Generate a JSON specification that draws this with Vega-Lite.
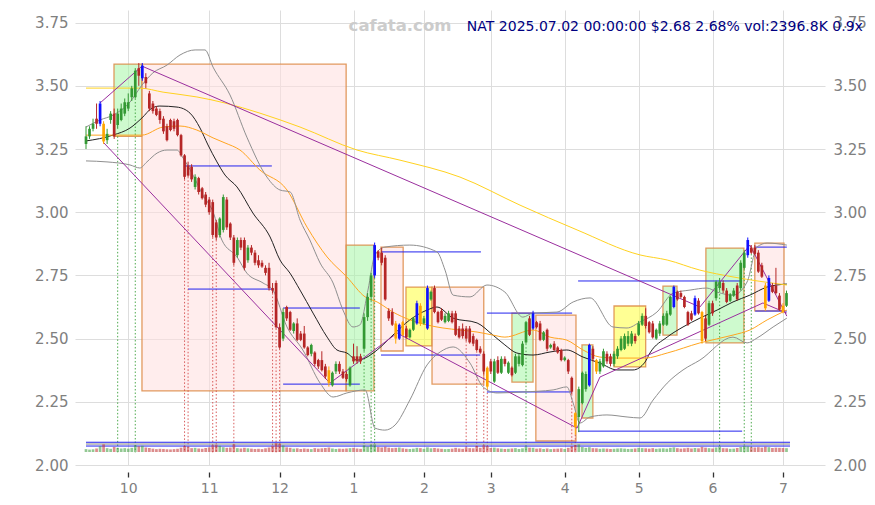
{
"$schema":"https://vega.github.io/schema/vega-lite/v6.json",
"width":750,"height":455,"autosize":"none",
"padding":{"left":75,"top":10,"right":50,"bottom":40},
"background":"white",
"config":{"font":"DejaVu Sans","view":{"stroke":null},"scale":{"continuousPadding":0},"axis":{"gridColor":"#dddddd","gridWidth":1,"domain":false,"ticks":false,"labelColor":"#808080","labelFontSize":13,"labelOverlap":false,"labelFlush":false}},
"datasets":{
"k":[
{"i":0,"o":3.27,"h":3.34,"l":3.25,"c":3.30,"k":"u","v":1800},
{"i":1,"o":3.30,"h":3.34,"l":3.29,"c":3.33,"k":"u","v":1500},
{"i":2,"o":3.33,"h":3.37,"l":3.32,"c":3.35,"k":"u","v":1700},
{"i":3,"o":3.37,"h":3.43,"l":3.33,"c":3.35,"k":"d","v":2200},
{"i":4,"o":3.35,"h":3.44,"l":3.34,"c":3.43,"k":"b","v":3600},
{"i":5,"o":3.35,"h":3.36,"l":3.27,"c":3.28,"k":"o","v":4800},
{"i":6,"o":3.285,"h":3.33,"l":3.27,"c":3.31,"k":"u","v":2400},
{"i":7,"o":3.365,"h":3.40,"l":3.35,"c":3.39,"k":"u","v":2000},
{"i":8,"o":3.39,"h":3.41,"l":3.29,"c":3.30,"k":"d","v":3200},
{"i":9,"o":3.345,"h":3.41,"l":3.33,"c":3.39,"k":"u","v":2600},
{"i":10,"o":3.365,"h":3.43,"l":3.36,"c":3.41,"k":"u","v":2200},
{"i":11,"o":3.39,"h":3.45,"l":3.38,"c":3.435,"k":"u","v":2400},
{"i":12,"o":3.41,"h":3.47,"l":3.40,"c":3.435,"k":"u","v":2100},
{"i":13,"o":3.455,"h":3.50,"l":3.44,"c":3.49,"k":"u","v":2600},
{"i":14,"o":3.455,"h":3.57,"l":3.45,"c":3.56,"k":"u","v":4200},
{"i":15,"o":3.57,"h":3.59,"l":3.50,"c":3.54,"k":"d","v":3500},
{"i":16,"o":3.53,"h":3.59,"l":3.52,"c":3.58,"k":"b","v":3900},
{"i":17,"o":3.535,"h":3.55,"l":3.49,"c":3.51,"k":"d","v":2800},
{"i":18,"o":3.47,"h":3.48,"l":3.40,"c":3.41,"k":"d","v":2500},
{"i":19,"o":3.43,"h":3.44,"l":3.39,"c":3.40,"k":"d","v":2100},
{"i":20,"o":3.41,"h":3.42,"l":3.38,"c":3.385,"k":"d","v":1800},
{"i":21,"o":3.40,"h":3.41,"l":3.35,"c":3.365,"k":"d","v":2000},
{"i":22,"o":3.37,"h":3.38,"l":3.31,"c":3.32,"k":"d","v":1900},
{"i":23,"o":3.34,"h":3.35,"l":3.28,"c":3.285,"k":"d","v":1700},
{"i":24,"o":3.365,"h":3.37,"l":3.32,"c":3.325,"k":"d","v":1600},
{"i":25,"o":3.36,"h":3.37,"l":3.32,"c":3.33,"k":"d","v":1800},
{"i":26,"o":3.365,"h":3.37,"l":3.30,"c":3.305,"k":"d","v":2000},
{"i":27,"o":3.305,"h":3.31,"l":3.22,"c":3.225,"k":"d","v":2700},
{"i":28,"o":3.225,"h":3.23,"l":3.13,"c":3.14,"k":"d","v":3800},
{"i":29,"o":3.185,"h":3.20,"l":3.14,"c":3.145,"k":"d","v":3300},
{"i":30,"o":3.18,"h":3.19,"l":3.12,"c":3.13,"k":"d","v":2400},
{"i":31,"o":3.10,"h":3.15,"l":3.09,"c":3.14,"k":"u","v":2600},
{"i":32,"o":3.135,"h":3.14,"l":3.07,"c":3.08,"k":"d","v":2200},
{"i":33,"o":3.095,"h":3.10,"l":3.05,"c":3.055,"k":"d","v":2100},
{"i":34,"o":3.07,"h":3.08,"l":3.02,"c":3.03,"k":"d","v":2500},
{"i":35,"o":3.05,"h":3.06,"l":2.99,"c":3.00,"k":"d","v":2900},
{"i":36,"o":3.04,"h":3.05,"l":2.90,"c":2.91,"k":"d","v":4200},
{"i":37,"o":2.96,"h":2.97,"l":2.89,"c":2.90,"k":"d","v":4500},
{"i":38,"o":2.91,"h":2.98,"l":2.90,"c":2.975,"k":"u","v":3900},
{"i":39,"o":2.93,"h":3.07,"l":2.92,"c":3.06,"k":"u","v":3000},
{"i":40,"o":3.05,"h":3.06,"l":2.93,"c":2.94,"k":"d","v":2600},
{"i":41,"o":2.955,"h":2.96,"l":2.89,"c":2.90,"k":"d","v":2800},
{"i":42,"o":2.90,"h":2.91,"l":2.79,"c":2.80,"k":"d","v":4800},
{"i":43,"o":2.83,"h":2.90,"l":2.82,"c":2.89,"k":"u","v":2400},
{"i":44,"o":2.89,"h":2.90,"l":2.85,"c":2.86,"k":"d","v":2200},
{"i":45,"o":2.89,"h":2.90,"l":2.77,"c":2.78,"k":"d","v":2600},
{"i":46,"o":2.81,"h":2.87,"l":2.80,"c":2.86,"k":"u","v":2300},
{"i":47,"o":2.86,"h":2.87,"l":2.83,"c":2.84,"k":"d","v":2100},
{"i":48,"o":2.84,"h":2.85,"l":2.79,"c":2.80,"k":"d","v":1900},
{"i":49,"o":2.81,"h":2.83,"l":2.78,"c":2.79,"k":"d","v":2000},
{"i":50,"o":2.80,"h":2.81,"l":2.78,"c":2.785,"k":"d","v":1800},
{"i":51,"o":2.78,"h":2.79,"l":2.75,"c":2.76,"k":"d","v":2300},
{"i":52,"o":2.78,"h":2.80,"l":2.69,"c":2.70,"k":"d","v":2800},
{"i":53,"o":2.70,"h":2.72,"l":2.68,"c":2.69,"k":"d","v":3900},
{"i":54,"o":2.72,"h":2.73,"l":2.54,"c":2.545,"k":"d","v":5600},
{"i":55,"o":2.545,"h":2.56,"l":2.46,"c":2.465,"k":"d","v":5200},
{"i":56,"o":2.50,"h":2.62,"l":2.49,"c":2.605,"k":"u","v":4100},
{"i":57,"o":2.625,"h":2.63,"l":2.57,"c":2.58,"k":"d","v":2900},
{"i":58,"o":2.605,"h":2.61,"l":2.53,"c":2.535,"k":"d","v":2600},
{"i":59,"o":2.53,"h":2.565,"l":2.52,"c":2.56,"k":"u","v":2100},
{"i":60,"o":2.56,"h":2.58,"l":2.49,"c":2.495,"k":"d","v":2300},
{"i":61,"o":2.52,"h":2.53,"l":2.49,"c":2.495,"k":"d","v":1900},
{"i":62,"o":2.52,"h":2.55,"l":2.46,"c":2.465,"k":"d","v":2200},
{"i":63,"o":2.465,"h":2.47,"l":2.43,"c":2.435,"k":"d","v":2000},
{"i":64,"o":2.44,"h":2.48,"l":2.43,"c":2.475,"k":"u","v":1800},
{"i":65,"o":2.445,"h":2.45,"l":2.39,"c":2.40,"k":"d","v":2400},
{"i":66,"o":2.415,"h":2.42,"l":2.38,"c":2.39,"k":"d","v":2100},
{"i":67,"o":2.415,"h":2.45,"l":2.37,"c":2.375,"k":"d","v":2300},
{"i":68,"o":2.39,"h":2.40,"l":2.34,"c":2.35,"k":"d","v":2500},
{"i":69,"o":2.375,"h":2.39,"l":2.31,"c":2.325,"k":"o","v":2800},
{"i":70,"o":2.315,"h":2.37,"l":2.31,"c":2.365,"k":"u","v":2200},
{"i":71,"o":2.37,"h":2.41,"l":2.36,"c":2.40,"k":"u","v":1900},
{"i":72,"o":2.40,"h":2.41,"l":2.36,"c":2.37,"k":"d","v":2100},
{"i":73,"o":2.37,"h":2.38,"l":2.34,"c":2.345,"k":"d","v":2000},
{"i":74,"o":2.36,"h":2.37,"l":2.33,"c":2.34,"k":"d","v":2200},
{"i":75,"o":2.315,"h":2.39,"l":2.31,"c":2.385,"k":"u","v":2400},
{"i":76,"o":2.43,"h":2.48,"l":2.40,"c":2.41,"k":"d","v":2600},
{"i":77,"o":2.43,"h":2.47,"l":2.40,"c":2.41,"k":"d","v":2200},
{"i":78,"o":2.43,"h":2.44,"l":2.40,"c":2.41,"k":"d","v":2000},
{"i":79,"o":2.46,"h":2.60,"l":2.45,"c":2.585,"k":"u","v":4200},
{"i":80,"o":2.585,"h":2.68,"l":2.57,"c":2.665,"k":"u","v":3400},
{"i":81,"o":2.665,"h":2.76,"l":2.65,"c":2.75,"k":"u","v":4500},
{"i":82,"o":2.75,"h":2.88,"l":2.74,"c":2.87,"k":"b","v":4800},
{"i":83,"o":2.845,"h":2.85,"l":2.81,"c":2.82,"k":"d","v":3100},
{"i":84,"o":2.84,"h":2.86,"l":2.79,"c":2.80,"k":"d","v":2800},
{"i":85,"o":2.82,"h":2.83,"l":2.65,"c":2.655,"k":"d","v":3300},
{"i":86,"o":2.61,"h":2.62,"l":2.57,"c":2.58,"k":"d","v":2700},
{"i":87,"o":2.605,"h":2.62,"l":2.55,"c":2.555,"k":"d","v":2400},
{"i":88,"o":2.56,"h":2.57,"l":2.48,"c":2.50,"k":"o","v":2600},
{"i":89,"o":2.50,"h":2.56,"l":2.495,"c":2.555,"k":"b","v":2800},
{"i":90,"o":2.565,"h":2.57,"l":2.51,"c":2.515,"k":"o","v":2300},
{"i":91,"o":2.54,"h":2.55,"l":2.50,"c":2.505,"k":"d","v":2000},
{"i":92,"o":2.505,"h":2.54,"l":2.50,"c":2.535,"k":"u","v":1900},
{"i":93,"o":2.535,"h":2.585,"l":2.53,"c":2.58,"k":"u","v":2100},
{"i":94,"o":2.56,"h":2.65,"l":2.555,"c":2.64,"k":"b","v":2600},
{"i":95,"o":2.63,"h":2.64,"l":2.55,"c":2.56,"k":"o","v":2400},
{"i":96,"o":2.56,"h":2.59,"l":2.555,"c":2.58,"k":"u","v":2000},
{"i":97,"o":2.54,"h":2.71,"l":2.535,"c":2.70,"k":"b","v":2900},
{"i":98,"o":2.655,"h":2.69,"l":2.65,"c":2.685,"k":"u","v":2300},
{"i":99,"o":2.70,"h":2.71,"l":2.60,"c":2.605,"k":"d","v":2500},
{"i":100,"o":2.605,"h":2.61,"l":2.56,"c":2.565,"k":"d","v":2200},
{"i":101,"o":2.61,"h":2.62,"l":2.57,"c":2.575,"k":"d","v":2000},
{"i":102,"o":2.565,"h":2.60,"l":2.56,"c":2.59,"k":"u","v":1800},
{"i":103,"o":2.57,"h":2.61,"l":2.565,"c":2.60,"k":"u","v":1900},
{"i":104,"o":2.60,"h":2.61,"l":2.56,"c":2.565,"k":"d","v":2100},
{"i":105,"o":2.60,"h":2.61,"l":2.51,"c":2.515,"k":"d","v":2600},
{"i":106,"o":2.54,"h":2.55,"l":2.50,"c":2.505,"k":"d","v":2200},
{"i":107,"o":2.54,"h":2.56,"l":2.50,"c":2.51,"k":"d","v":2000},
{"i":108,"o":2.54,"h":2.55,"l":2.49,"c":2.50,"k":"d","v":2800},
{"i":109,"o":2.54,"h":2.55,"l":2.48,"c":2.485,"k":"d","v":2400},
{"i":110,"o":2.51,"h":2.52,"l":2.47,"c":2.48,"k":"d","v":2300},
{"i":111,"o":2.495,"h":2.50,"l":2.45,"c":2.455,"k":"d","v":3800},
{"i":112,"o":2.46,"h":2.47,"l":2.44,"c":2.445,"k":"d","v":2600},
{"i":113,"o":2.44,"h":2.45,"l":2.36,"c":2.37,"k":"d","v":4200},
{"i":114,"o":2.385,"h":2.39,"l":2.30,"c":2.31,"k":"o","v":3700},
{"i":115,"o":2.41,"h":2.42,"l":2.36,"c":2.37,"k":"d","v":2500},
{"i":116,"o":2.33,"h":2.42,"l":2.325,"c":2.41,"k":"u","v":2700},
{"i":117,"o":2.415,"h":2.43,"l":2.36,"c":2.365,"k":"d","v":2300},
{"i":118,"o":2.365,"h":2.43,"l":2.36,"c":2.42,"k":"u","v":2100},
{"i":119,"o":2.42,"h":2.43,"l":2.39,"c":2.40,"k":"d","v":1900},
{"i":120,"o":2.365,"h":2.41,"l":2.36,"c":2.405,"k":"u","v":2000},
{"i":121,"o":2.385,"h":2.39,"l":2.35,"c":2.355,"k":"d","v":2200},
{"i":122,"o":2.365,"h":2.44,"l":2.36,"c":2.43,"k":"u","v":2400},
{"i":123,"o":2.40,"h":2.44,"l":2.39,"c":2.43,"k":"u","v":1900},
{"i":124,"o":2.395,"h":2.49,"l":2.39,"c":2.48,"k":"u","v":2300},
{"i":125,"o":2.485,"h":2.57,"l":2.48,"c":2.565,"k":"u","v":3400},
{"i":126,"o":2.58,"h":2.59,"l":2.51,"c":2.515,"k":"d","v":2700},
{"i":127,"o":2.54,"h":2.61,"l":2.535,"c":2.60,"k":"b","v":2600},
{"i":128,"o":2.565,"h":2.57,"l":2.54,"c":2.545,"k":"d","v":2100},
{"i":129,"o":2.56,"h":2.57,"l":2.49,"c":2.495,"k":"d","v":2300},
{"i":130,"o":2.495,"h":2.53,"l":2.49,"c":2.525,"k":"u","v":1900},
{"i":131,"o":2.535,"h":2.54,"l":2.45,"c":2.46,"k":"d","v":2200},
{"i":132,"o":2.465,"h":2.48,"l":2.46,"c":2.475,"k":"u","v":1800},
{"i":133,"o":2.48,"h":2.49,"l":2.45,"c":2.455,"k":"d","v":2000},
{"i":134,"o":2.465,"h":2.47,"l":2.44,"c":2.445,"k":"d","v":2100},
{"i":135,"o":2.455,"h":2.46,"l":2.41,"c":2.415,"k":"d","v":2300},
{"i":136,"o":2.415,"h":2.43,"l":2.41,"c":2.425,"k":"u","v":1900},
{"i":137,"o":2.415,"h":2.42,"l":2.36,"c":2.37,"k":"d","v":2600},
{"i":138,"o":2.345,"h":2.35,"l":2.28,"c":2.29,"k":"d","v":3600},
{"i":139,"o":2.205,"h":2.21,"l":2.12,"c":2.15,"k":"o","v":4400},
{"i":140,"o":2.19,"h":2.31,"l":2.13,"c":2.30,"k":"u","v":4700},
{"i":141,"o":2.245,"h":2.37,"l":2.24,"c":2.365,"k":"u","v":3100},
{"i":142,"o":2.30,"h":2.37,"l":2.29,"c":2.36,"k":"u","v":2600},
{"i":143,"o":2.315,"h":2.48,"l":2.31,"c":2.475,"k":"b","v":3000},
{"i":144,"o":2.46,"h":2.47,"l":2.41,"c":2.42,"k":"d","v":2400},
{"i":145,"o":2.415,"h":2.42,"l":2.36,"c":2.37,"k":"o","v":2300},
{"i":146,"o":2.37,"h":2.42,"l":2.36,"c":2.41,"k":"u","v":2000},
{"i":147,"o":2.39,"h":2.46,"l":2.385,"c":2.45,"k":"u","v":2200},
{"i":148,"o":2.44,"h":2.45,"l":2.40,"c":2.41,"k":"d","v":2100},
{"i":149,"o":2.43,"h":2.44,"l":2.39,"c":2.40,"k":"d","v":1900},
{"i":150,"o":2.40,"h":2.45,"l":2.39,"c":2.44,"k":"u","v":2000},
{"i":151,"o":2.43,"h":2.47,"l":2.42,"c":2.46,"k":"u","v":2200},
{"i":152,"o":2.455,"h":2.51,"l":2.45,"c":2.50,"k":"u","v":2300},
{"i":153,"o":2.46,"h":2.52,"l":2.455,"c":2.51,"k":"u","v":2100},
{"i":154,"o":2.48,"h":2.53,"l":2.47,"c":2.51,"k":"u","v":1900},
{"i":155,"o":2.48,"h":2.53,"l":2.47,"c":2.52,"k":"u","v":2000},
{"i":156,"o":2.51,"h":2.52,"l":2.48,"c":2.49,"k":"d","v":2200},
{"i":157,"o":2.515,"h":2.57,"l":2.51,"c":2.56,"k":"u","v":2600},
{"i":158,"o":2.555,"h":2.60,"l":2.55,"c":2.59,"k":"u","v":2400},
{"i":159,"o":2.59,"h":2.62,"l":2.54,"c":2.55,"k":"d","v":2300},
{"i":160,"o":2.565,"h":2.57,"l":2.52,"c":2.525,"k":"d","v":2100},
{"i":161,"o":2.56,"h":2.57,"l":2.50,"c":2.505,"k":"d","v":2400},
{"i":162,"o":2.50,"h":2.54,"l":2.495,"c":2.535,"k":"u","v":2000},
{"i":163,"o":2.52,"h":2.57,"l":2.51,"c":2.56,"k":"u","v":2200},
{"i":164,"o":2.555,"h":2.60,"l":2.55,"c":2.59,"k":"u","v":2300},
{"i":165,"o":2.555,"h":2.61,"l":2.55,"c":2.60,"k":"u","v":2100},
{"i":166,"o":2.595,"h":2.67,"l":2.59,"c":2.665,"k":"u","v":2600},
{"i":167,"o":2.625,"h":2.71,"l":2.62,"c":2.705,"k":"b","v":2900},
{"i":168,"o":2.685,"h":2.69,"l":2.65,"c":2.655,"k":"d","v":2400},
{"i":169,"o":2.68,"h":2.69,"l":2.66,"c":2.665,"k":"d","v":2100},
{"i":170,"o":2.665,"h":2.67,"l":2.62,"c":2.625,"k":"d","v":2300},
{"i":171,"o":2.605,"h":2.61,"l":2.55,"c":2.555,"k":"d","v":2600},
{"i":172,"o":2.60,"h":2.61,"l":2.57,"c":2.575,"k":"d","v":2200},
{"i":173,"o":2.595,"h":2.67,"l":2.59,"c":2.66,"k":"b","v":2500},
{"i":174,"o":2.65,"h":2.66,"l":2.595,"c":2.60,"k":"d","v":2300},
{"i":175,"o":2.605,"h":2.61,"l":2.48,"c":2.49,"k":"o","v":3200},
{"i":176,"o":2.58,"h":2.59,"l":2.49,"c":2.50,"k":"d","v":2700},
{"i":177,"o":2.555,"h":2.65,"l":2.55,"c":2.64,"k":"u","v":2400},
{"i":178,"o":2.64,"h":2.65,"l":2.59,"c":2.60,"k":"d","v":2200},
{"i":179,"o":2.66,"h":2.73,"l":2.65,"c":2.725,"k":"u","v":2800},
{"i":180,"o":2.70,"h":2.74,"l":2.69,"c":2.725,"k":"u","v":3500},
{"i":181,"o":2.72,"h":2.73,"l":2.68,"c":2.69,"k":"d","v":2400},
{"i":182,"o":2.69,"h":2.70,"l":2.64,"c":2.645,"k":"d","v":2300},
{"i":183,"o":2.65,"h":2.68,"l":2.645,"c":2.675,"k":"u","v":2000},
{"i":184,"o":2.67,"h":2.70,"l":2.665,"c":2.69,"k":"u","v":2100},
{"i":185,"o":2.71,"h":2.72,"l":2.65,"c":2.655,"k":"d","v":2500},
{"i":186,"o":2.70,"h":2.81,"l":2.69,"c":2.80,"k":"u","v":3100},
{"i":187,"o":2.78,"h":2.85,"l":2.775,"c":2.84,"k":"u","v":3800},
{"i":188,"o":2.83,"h":2.90,"l":2.82,"c":2.89,"k":"b","v":3500},
{"i":189,"o":2.86,"h":2.87,"l":2.835,"c":2.84,"k":"d","v":3000},
{"i":190,"o":2.86,"h":2.87,"l":2.83,"c":2.835,"k":"d","v":2800},
{"i":191,"o":2.84,"h":2.85,"l":2.76,"c":2.765,"k":"d","v":3000},
{"i":192,"o":2.79,"h":2.80,"l":2.74,"c":2.745,"k":"d","v":2700},
{"i":193,"o":2.71,"h":2.72,"l":2.61,"c":2.62,"k":"o","v":3300},
{"i":194,"o":2.65,"h":2.75,"l":2.645,"c":2.74,"k":"b","v":3000},
{"i":195,"o":2.71,"h":2.72,"l":2.68,"c":2.685,"k":"d","v":2500},
{"i":196,"o":2.71,"h":2.78,"l":2.675,"c":2.68,"k":"d","v":2700},
{"i":197,"o":2.67,"h":2.68,"l":2.61,"c":2.615,"k":"d","v":2600},
{"i":198,"o":2.63,"h":2.64,"l":2.60,"c":2.605,"k":"o","v":2500},
{"i":199,"o":2.63,"h":2.69,"l":2.625,"c":2.68,"k":"u","v":2400}
],
"ma":[
{"s":"m1","i":0,"p":3.282},{"s":"m1","i":7.67,"p":3.305},{"s":"m1","i":12.5,"p":3.333},{"s":"m1","i":15.9,"p":3.373},{"s":"m1","i":18.75,"p":3.412},{"s":"m1","i":21,"p":3.42},{"s":"m1","i":25.85,"p":3.416},{"s":"m1","i":29.55,"p":3.392},{"s":"m1","i":32.4,"p":3.333},{"s":"m1","i":34.66,"p":3.266},{"s":"m1","i":37.2,"p":3.199},{"s":"m1","i":39.5,"p":3.147},{"s":"m1","i":42.9,"p":3.1},{"s":"m1","i":47.4,"p":2.997},{"s":"m1","i":52.3,"p":2.902},{"s":"m1","i":55.1,"p":2.811},{"s":"m1","i":57.95,"p":2.759},{"s":"m1","i":60.8,"p":2.692},{"s":"m1","i":64.5,"p":2.601},{"s":"m1","i":68.5,"p":2.506},{"s":"m1","i":71.3,"p":2.455},{"s":"m1","i":74.1,"p":2.443},{"s":"m1","i":77,"p":2.415},{"s":"m1","i":79.3,"p":2.423},{"s":"m1","i":82.7,"p":2.455},{"s":"m1","i":87.2,"p":2.514},{"s":"m1","i":92,"p":2.574},{"s":"m1","i":96.9,"p":2.613},{"s":"m1","i":99.7,"p":2.625},{"s":"m1","i":104.3,"p":2.581},{"s":"m1","i":111.1,"p":2.562},{"s":"m1","i":115.6,"p":2.514},{"s":"m1","i":119,"p":2.475},{"s":"m1","i":122.4,"p":2.443},{"s":"m1","i":127,"p":2.435},{"s":"m1","i":131.8,"p":2.447},{"s":"m1","i":136.6,"p":2.455},{"s":"m1","i":141.2,"p":2.427},{"s":"m1","i":146,"p":2.403},{"s":"m1","i":150.9,"p":2.376},{"s":"m1","i":155.4,"p":2.376},{"s":"m1","i":158.8,"p":2.407},{"s":"m1","i":160.2,"p":2.443},{"s":"m1","i":165.1,"p":2.506},{"s":"m1","i":169.6,"p":2.546},{"s":"m1","i":174.4,"p":2.581},{"s":"m1","i":179.3,"p":2.613},{"s":"m1","i":183.8,"p":2.645},{"s":"m1","i":188.6,"p":2.672},{"s":"m1","i":193.5,"p":2.704},{"s":"m1","i":199.1,"p":2.716},
{"s":"m2","i":0,"p":3.305},{"s":"m2","i":7.67,"p":3.305},{"s":"m2","i":15.9,"p":3.305},{"s":"m2","i":21.9,"p":3.337},{"s":"m2","i":26.7,"p":3.341},{"s":"m2","i":31.5,"p":3.325},{"s":"m2","i":36.1,"p":3.294},{"s":"m2","i":39.5,"p":3.274},{"s":"m2","i":43.75,"p":3.246},{"s":"m2","i":49.4,"p":3.167},{"s":"m2","i":57.1,"p":3.088},{"s":"m2","i":62.8,"p":2.941},{"s":"m2","i":68.5,"p":2.823},{"s":"m2","i":74.1,"p":2.744},{"s":"m2","i":79.3,"p":2.665},{"s":"m2","i":82.7,"p":2.645},{"s":"m2","i":87.2,"p":2.605},{"s":"m2","i":92,"p":2.574},{"s":"m2","i":96.9,"p":2.554},{"s":"m2","i":101.4,"p":2.542},{"s":"m2","i":106.25,"p":2.534},{"s":"m2","i":111.1,"p":2.526},{"s":"m2","i":115.6,"p":2.514},{"s":"m2","i":119,"p":2.506},{"s":"m2","i":127,"p":2.534},{"s":"m2","i":131.8,"p":2.506},{"s":"m2","i":136.6,"p":2.494},{"s":"m2","i":141.2,"p":2.455},{"s":"m2","i":146,"p":2.427},{"s":"m2","i":150.9,"p":2.423},{"s":"m2","i":158.8,"p":2.423},{"s":"m2","i":165.1,"p":2.443},{"s":"m2","i":174.4,"p":2.483},{"s":"m2","i":183.8,"p":2.514},{"s":"m2","i":188.6,"p":2.534},{"s":"m2","i":193.5,"p":2.574},{"s":"m2","i":199.1,"p":2.613},
{"s":"m3","i":0,"p":3.491},{"s":"m3","i":15.3,"p":3.491},{"s":"m3","i":21.9,"p":3.475},{"s":"m3","i":31.5,"p":3.456},{"s":"m3","i":39.5,"p":3.432},{"s":"m3","i":49.4,"p":3.392},{"s":"m3","i":60.8,"p":3.337},{"s":"m3","i":77,"p":3.246},{"s":"m3","i":89.2,"p":3.206},{"s":"m3","i":106.25,"p":3.139},{"s":"m3","i":123.3,"p":3.028},{"s":"m3","i":139.5,"p":2.93},{"s":"m3","i":157.4,"p":2.831},{"s":"m3","i":165.1,"p":2.811},{"s":"m3","i":174.4,"p":2.771},{"s":"m3","i":183.8,"p":2.744},{"s":"m3","i":199.1,"p":2.712},
{"s":"bu","i":0,"p":3.337},{"s":"bu","i":4,"p":3.365},{"s":"bu","i":7.67,"p":3.384},{"s":"bu","i":12.5,"p":3.436},{"s":"bu","i":15.9,"p":3.503},{"s":"bu","i":19,"p":3.551},{"s":"bu","i":23,"p":3.582},{"s":"bu","i":26.7,"p":3.622},{"s":"bu","i":31,"p":3.642},{"s":"bu","i":33.8,"p":3.642},{"s":"bu","i":36.1,"p":3.574},{"s":"bu","i":40.9,"p":3.464},{"s":"bu","i":45.7,"p":3.297},{"s":"bu","i":51.4,"p":3.139},{"s":"bu","i":55.1,"p":3.088},{"s":"bu","i":58,"p":3.08},{"s":"bu","i":60.8,"p":2.969},{"s":"bu","i":63.6,"p":2.89},{"s":"bu","i":66.5,"p":2.799},{"s":"bu","i":70.2,"p":2.72},{"s":"bu","i":73,"p":2.613},{"s":"bu","i":75.85,"p":2.546},{"s":"bu","i":77.8,"p":2.554},{"s":"bu","i":80.1,"p":2.692},{"s":"bu","i":82.1,"p":2.831},{"s":"bu","i":84.9,"p":2.862},{"s":"bu","i":92,"p":2.87},{"s":"bu","i":99.7,"p":2.843},{"s":"bu","i":102,"p":2.771},{"s":"bu","i":104.3,"p":2.672},{"s":"bu","i":109.1,"p":2.665},{"s":"bu","i":113.9,"p":2.712},{"s":"bu","i":119,"p":2.684},{"s":"bu","i":124.1,"p":2.585},{"s":"bu","i":127,"p":2.601},{"s":"bu","i":133.8,"p":2.605},{"s":"bu","i":138.4,"p":2.645},{"s":"bu","i":143.2,"p":2.661},{"s":"bu","i":149.7,"p":2.546},{"s":"bu","i":153.7,"p":2.542},{"s":"bu","i":157.4,"p":2.566},{"s":"bu","i":162.2,"p":2.605},{"s":"bu","i":166.8,"p":2.68},{"s":"bu","i":171.6,"p":2.692},{"s":"bu","i":176.4,"p":2.7},{"s":"bu","i":179.3,"p":2.684},{"s":"bu","i":183.8,"p":2.672},{"s":"bu","i":187.8,"p":2.724},{"s":"bu","i":190.6,"p":2.862},{"s":"bu","i":193.5,"p":2.878},{"s":"bu","i":199.1,"p":2.87},
{"s":"bl","i":0,"p":3.203},{"s":"bl","i":5.97,"p":3.199},{"s":"bl","i":12.5,"p":3.187},{"s":"bl","i":15.3,"p":3.175},{"s":"bl","i":17.3,"p":3.199},{"s":"bl","i":20.2,"p":3.234},{"s":"bl","i":23,"p":3.246},{"s":"bl","i":25.85,"p":3.246},{"s":"bl","i":27.6,"p":3.214},{"s":"bl","i":30.4,"p":3.147},{"s":"bl","i":33.2,"p":3.068},{"s":"bl","i":36.1,"p":3.001},{"s":"bl","i":38.6,"p":2.89},{"s":"bl","i":42.9,"p":2.823},{"s":"bl","i":45.7,"p":2.759},{"s":"bl","i":50.3,"p":2.72},{"s":"bl","i":53.1,"p":2.692},{"s":"bl","i":57.1,"p":2.546},{"s":"bl","i":61.6,"p":2.455},{"s":"bl","i":66.5,"p":2.324},{"s":"bl","i":70.2,"p":2.269},{"s":"bl","i":74.1,"p":2.285},{"s":"bl","i":79.3,"p":2.297},{"s":"bl","i":82.1,"p":2.146},{"s":"bl","i":84.9,"p":2.138},{"s":"bl","i":87.8,"p":2.158},{"s":"bl","i":92,"p":2.257},{"s":"bl","i":96.9,"p":2.396},{"s":"bl","i":100.6,"p":2.447},{"s":"bl","i":104.3,"p":2.467},{"s":"bl","i":109.1,"p":2.403},{"s":"bl","i":112.8,"p":2.309},{"s":"bl","i":116.8,"p":2.285},{"s":"bl","i":124.1,"p":2.289},{"s":"bl","i":132.7,"p":2.297},{"s":"bl","i":136.6,"p":2.309},{"s":"bl","i":138.4,"p":2.245},{"s":"bl","i":140.3,"p":2.166},{"s":"bl","i":143.2,"p":2.19},{"s":"bl","i":148,"p":2.198},{"s":"bl","i":153.7,"p":2.19},{"s":"bl","i":157.4,"p":2.186},{"s":"bl","i":161.1,"p":2.257},{"s":"bl","i":165.1,"p":2.324},{"s":"bl","i":169.6,"p":2.376},{"s":"bl","i":174.4,"p":2.415},{"s":"bl","i":183.8,"p":2.506},{"s":"bl","i":187.8,"p":2.483},{"s":"bl","i":190.6,"p":2.502},{"s":"bl","i":195.2,"p":2.546},{"s":"bl","i":199.1,"p":2.581}
],
"boxes":[
{"a":7.95,"b":15.9,"t":3.586,"u":3.30,"f":"g"},
{"a":15.9,"b":73.9,"t":3.586,"u":2.293,"f":"r"},
{"a":73.9,"b":81.8,"t":2.87,"u":2.293,"f":"g"},
{"a":83.8,"b":90.1,"t":2.862,"u":2.451,"f":"r"},
{"a":90.9,"b":98.3,"t":2.704,"u":2.471,"f":"y"},
{"a":98.3,"b":113,"t":2.704,"u":2.32,"f":"r"},
{"a":121,"b":127,"t":2.601,"u":2.328,"f":"g"},
{"a":127.8,"b":139.2,"t":2.593,"u":2.095,"f":"r"},
{"a":140.9,"b":144,"t":2.475,"u":2.186,"f":"g"},
{"a":150,"b":159,"t":2.629,"u":2.388,"f":"y"},
{"a":163.9,"b":167.9,"t":2.708,"u":2.514,"f":"g"},
{"a":176.1,"b":186.9,"t":2.858,"u":2.483,"f":"g"},
{"a":190,"b":198.3,"t":2.878,"u":2.61,"f":"r"}
],
"vlines":[
{"i":9,"t":3.30,"g":"g"},{"i":14,"t":3.45,"g":"g"},{"i":28,"t":3.13,"g":"r"},{"i":29,"t":3.14,"g":"r"},{"i":36,"t":2.90,"g":"r"},{"i":37,"t":2.89,"g":"r"},{"i":42,"t":2.79,"g":"r"},{"i":53,"t":2.68,"g":"r"},{"i":54,"t":2.54,"g":"r"},{"i":55,"t":2.46,"g":"r"},{"i":79,"t":2.45,"g":"g"},{"i":81,"t":2.65,"g":"g"},{"i":82,"t":2.74,"g":"g"},{"i":108,"t":2.49,"g":"r"},{"i":111,"t":2.45,"g":"r"},{"i":113,"t":2.36,"g":"r"},{"i":114,"t":2.30,"g":"r"},{"i":125,"t":2.48,"g":"g"},{"i":138,"t":2.28,"g":"r"},{"i":139,"t":2.12,"g":"r"},{"i":180,"t":2.69,"g":"g"},{"i":187,"t":2.775,"g":"g"},{"i":189,"t":2.835,"g":"g"}
],
"hlines":[
{"a":28.1,"b":52.8,"p":3.183,"c":"b"},{"a":29,"b":52.8,"p":2.696,"c":"b"},{"a":56,"b":77.8,"p":2.621,"c":"b"},{"a":56,"b":77.8,"p":2.32,"c":"b"},{"a":83.8,"b":112.2,"p":2.843,"c":"b"},{"a":83.8,"b":112,"p":2.435,"c":"b"},{"a":113.9,"b":138.1,"p":2.601,"c":"b"},{"a":113.9,"b":138.1,"p":2.289,"c":"b"},{"a":139.8,"b":186.4,"p":2.728,"c":"b"},{"a":139.8,"b":186.4,"p":2.134,"c":"b"},{"a":190.1,"b":199.1,"p":2.862,"c":"b"},{"a":190.1,"b":199.1,"p":2.609,"c":"b"},
{"a":0,"b":200,"p":2.09,"c":"b"},{"a":0,"b":200,"p":2.083,"c":"g"},{"a":0,"b":200,"p":2.075,"c":"b"}
],
"trend":[
{"a":3.98,"pa":3.432,"b":15.9,"pb":3.578},{"a":15.9,"pa":3.578,"b":174.4,"pb":2.625},{"a":174.4,"pa":2.625,"b":188.6,"pb":2.87},{"a":188.6,"pa":2.87,"b":199.1,"pb":2.589},{"a":4.83,"pa":3.278,"b":69.3,"pb":2.324},{"a":69.3,"pa":2.324,"b":88.4,"pb":2.522},{"a":88.4,"pa":2.522,"b":139.5,"pb":2.146},{"a":139.5,"pa":2.146,"b":146,"pb":2.348},{"a":146,"pa":2.348,"b":192.3,"pb":2.641},{"a":192.3,"pa":2.641,"b":199.1,"pb":2.601}
]
},
"layer":[
{"layer":[
{"data":{"name":"boxes"},"mark":{"type":"rect","stroke":"#dd8a45","strokeWidth":1.3,"strokeOpacity":0.85,"fillOpacity":0.55},
 "encoding":{
  "x":{"field":"a","type":"quantitative","scale":{"domain":[-3.125,209.94],"nice":false,"zero":false,"padding":0},"title":null,
   "axis":{"values":[12,35,55,76,96,115,136,157,178,198],"labelExpr":"datum.value==12?'10':datum.value==35?'11':datum.value==55?'12':datum.value==76?'1':datum.value==96?'2':datum.value==115?'3':datum.value==136?'4':datum.value==157?'5':datum.value==178?'6':'7'","grid":true,"ticks":true,"tickColor":"#333333","tickSize":5,"tickWidth":1.3,"offset":7,"labelPadding":4,"domain":false,"labelFontSize":14}},
  "x2":{"field":"b"},
  "y":{"field":"t","type":"quantitative","scale":{"domain":[2,3.8],"nice":false,"zero":false,"padding":0},"title":null,
   "axis":{"orient":"left","values":[2,2.25,2.5,2.75,3,3.25,3.5,3.75],"format":".2f","grid":true,"labelPadding":7,"labelFontSize":15}},
  "y2":{"field":"u"},
  "fill":{"field":"f","type":"nominal","scale":{"domain":["g","r","y"],"range":["#a6f5a6","#ffdede","#ffff3c"]},"legend":null}
 }},
{"data":{"name":"vlines"},"mark":{"type":"rule","strokeDash":[1.5,2],"strokeWidth":0.9},
 "encoding":{
  "x":{"field":"i","type":"quantitative","scale":{"domain":[-3.125,209.94],"nice":false,"zero":false,"padding":0},"title":null},
  "y":{"field":"t","type":"quantitative","scale":{"domain":[2,3.8],"nice":false,"zero":false,"padding":0},"title":null,"axis":null},
  "y2":{"datum":2.05},
  "color":{"condition":{"test":"datum.g=='g'","value":"#3aa03a"},"value":"#d44a4a"}
 }},
{"data":{"name":"hlines"},"mark":{"type":"rule","strokeWidth":1},
 "encoding":{
  "x":{"field":"a","type":"quantitative","scale":{"domain":[-3.125,209.94],"nice":false,"zero":false,"padding":0},"title":null},
  "x2":{"field":"b"},
  "y":{"field":"p","type":"quantitative","scale":{"domain":[2,3.8],"nice":false,"zero":false,"padding":0},"title":null,"axis":null},
  "color":{"condition":{"test":"datum.c=='g'","value":"#888888"},"value":"#2222ee"}
 }},
{"data":{"name":"ma"},"mark":{"type":"line","strokeWidth":1,"interpolate":"monotone"},
 "encoding":{
  "x":{"field":"i","type":"quantitative","scale":{"domain":[-3.125,209.94],"nice":false,"zero":false,"padding":0},"title":null},
  "y":{"field":"p","type":"quantitative","scale":{"domain":[2,3.8],"nice":false,"zero":false,"padding":0},"title":null,"axis":null},
  "stroke":{"field":"s","type":"nominal","scale":{"domain":["m1","m2","m3","bu","bl"],"range":["#222222","#ffa520","#ffd21f","#8f8f8f","#8f8f8f"]},"legend":null}
 }},
{"data":{"name":"trend"},"mark":{"type":"rule","strokeWidth":1,"color":"#9a2f9e"},
 "encoding":{
  "x":{"field":"a","type":"quantitative","scale":{"domain":[-3.125,209.94],"nice":false,"zero":false,"padding":0},"title":null},
  "x2":{"field":"b"},
  "y":{"field":"pa","type":"quantitative","scale":{"domain":[2,3.8],"nice":false,"zero":false,"padding":0},"title":null,"axis":null},
  "y2":{"field":"pb"}
 }},
{"data":{"name":"k"},"mark":{"type":"rule","strokeWidth":1},
 "encoding":{
  "x":{"field":"i","type":"quantitative","scale":{"domain":[-3.125,209.94],"nice":false,"zero":false,"padding":0},"title":null},
  "y":{"field":"l","type":"quantitative","scale":{"domain":[2,3.8],"nice":false,"zero":false,"padding":0},"title":null,"axis":null},
  "y2":{"field":"h"},
  "color":{"field":"k","type":"nominal","scale":{"domain":["u","d","b","o"],"range":["#339933","#b52626","#1010ff","#ffa500"]},"legend":null}
 }},
{"data":{"name":"k"},"mark":{"type":"bar","size":2.7},
 "encoding":{
  "x":{"field":"i","type":"quantitative","scale":{"domain":[-3.125,209.94],"nice":false,"zero":false,"padding":0},"title":null},
  "y":{"field":"o","type":"quantitative","scale":{"domain":[2,3.8],"nice":false,"zero":false,"padding":0},"title":null,
   "axis":{"orient":"right","values":[2,2.25,2.5,2.75,3,3.25,3.5,3.75],"format":".2f","grid":false,"labelPadding":8,"labelFontSize":15}},
  "y2":{"field":"c"},
  "color":{"field":"k","type":"nominal","scale":{"domain":["u","d","b","o"],"range":["#339933","#b52626","#1010ff","#ffa500"]},"legend":null}
 }},
{"data":{"values":[{"t":"cafata.com"}]},"mark":{"type":"text","align":"left","baseline":"alphabetic","fontSize":16.5,"fontWeight":"bold","color":"#cccccc"},
 "encoding":{
  "x":{"datum":74.6,"type":"quantitative","scale":{"domain":[-3.125,209.94],"nice":false,"zero":false,"padding":0},"title":null},
  "y":{"datum":3.717,"type":"quantitative","scale":{"domain":[2,3.8],"nice":false,"zero":false,"padding":0},"title":null,"axis":null},
  "text":{"field":"t"}
 }},
{"data":{"values":[{"t":"NAT 2025.07.02 00:00:00 $2.68 2.68% vol:2396.8K 0.9x"}]},"mark":{"type":"text","align":"left","baseline":"alphabetic","fontSize":14,"color":"#000080"},
 "encoding":{
  "x":{"datum":108.2,"type":"quantitative","scale":{"domain":[-3.125,209.94],"nice":false,"zero":false,"padding":0},"title":null},
  "y":{"datum":3.717,"type":"quantitative","scale":{"domain":[2,3.8],"nice":false,"zero":false,"padding":0},"title":null,"axis":null},
  "text":{"field":"t"}
 }}
],
"resolve":{"axis":{"y":"independent"}}},
{"data":{"name":"k"},"mark":{"type":"bar","size":2.7,"opacity":0.55},
 "encoding":{
  "x":{"field":"i","type":"quantitative","scale":{"domain":[-3.125,209.94],"nice":false,"zero":false,"padding":0},"title":null},
  "y":{"field":"v","type":"quantitative","scale":{"domain":[-8125,276250],"nice":false,"zero":false,"padding":0},"title":null,"axis":null},
  "y2":{"datum":0},
  "color":{"condition":{"test":"datum.c>=datum.o","value":"#3a9a3a"},"value":"#c03030"}
 }}
],
"resolve":{"scale":{"y":"independent"}}
}
